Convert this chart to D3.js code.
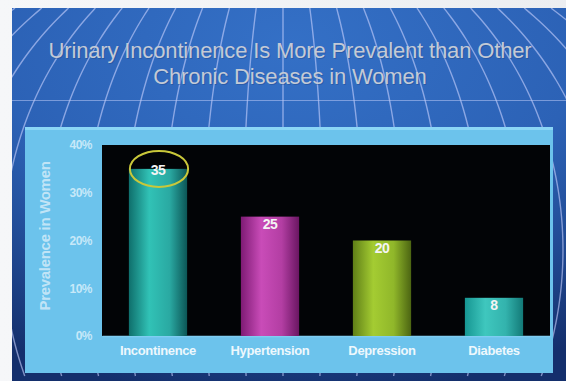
<!DOCTYPE html>
<html><head><meta charset="utf-8">
<script src="https://cdn.jsdelivr.net/npm/d3@7"></script>
<style>
html,body{margin:0;padding:0;background:#eef0f3;}
svg{display:block;}
</style></head>
<body>
<script>
const titleLines = ["Urinary Incontinence Is More Prevalent than Other", "Chronic Diseases in Women"];
const categories = ["Incontinence", "Hypertension", "Depression", "Diabetes"];
const values = [35, 25, 20, 8];
const yTicks = [0, 10, 20, 30, 40];
const yTitle = "Prevalence in Women";
const highlighted = "Incontinence";

const barColors = [
  ["#0f6f6c", "#31c2b6", "#2aa9a2", "#0c5656"],
  ["#7e1b74", "#c94cb8", "#b33ea3", "#6a1662"],
  ["#5f7f17", "#a4cc32", "#90b72a", "#4c6512"],
  ["#169692", "#3fc7be", "#33b3ad", "#137a78"]
];

const W = 566, H = 381;
const svg = d3.select("body").append("svg").attr("width", W).attr("height", H);
const defs = svg.append("defs");

// backgrounds
const lg = defs.append("linearGradient").attr("id","pageBg").attr("x1",0).attr("y1",0).attr("x2",1).attr("y2",0);
lg.append("stop").attr("offset",0).attr("stop-color","#f6f7f9");
lg.append("stop").attr("offset",1).attr("stop-color","#eceef1");
svg.append("rect").attr("width",W).attr("height",H).attr("fill","url(#pageBg)");

const rg = defs.append("radialGradient").attr("id","panelBg")
  .attr("cx","0.5").attr("cy","0.1").attr("r","0.95");
rg.append("stop").attr("offset",0).attr("stop-color","#3470c6");
rg.append("stop").attr("offset",0.55).attr("stop-color","#2c62b6");
rg.append("stop").attr("offset",1).attr("stop-color","#142f6c");
defs.append("clipPath").attr("id","panelClip").append("rect").attr("x",12).attr("y",8).attr("width",W-12).attr("height",H-8);
svg.append("rect").attr("x",12).attr("y",8).attr("width",W-12).attr("height",H-8).attr("fill","url(#panelBg)");

// globe meridians (decoration)
const deco = svg.append("g").attr("clip-path","url(#panelClip)");
const meridian = d3.line().curve(d3.curveBasis);
d3.range(-10, 11).forEach(k => {
  const pts = d3.range(8, 382, 8).map(y => {
    const f = Math.sqrt(Math.max(0, 1 - Math.pow((y - 250) / 326, 2)));
    return [283 + k * 40 * f, y];
  });
  deco.append("path").attr("d", meridian(pts)).attr("fill","none")
    .attr("stroke","#c9d2ff").attr("stroke-opacity",0.6).attr("stroke-width",1.4);
});
deco.append("line").attr("x1",12).attr("x2",W).attr("y1",100.5).attr("y2",100.5)
  .attr("stroke","#b9c8f5").attr("stroke-opacity",0.55).attr("stroke-width",1.2);

// title
const title = svg.append("g").attr("font-family","'Liberation Sans', Arial, sans-serif")
  .attr("font-size",22).attr("text-anchor","middle");
titleLines.forEach((t,i) => {
  title.append("text").attr("x",290).attr("y",58 + i*26).attr("fill","#1d3d7a").attr("fill-opacity",0.35)
    .attr("dx",1).attr("dy",1).attr("letter-spacing",-0.15).text(t);
  title.append("text").attr("x",290).attr("y",58 + i*26).attr("fill","#c3cad6")
    .attr("letter-spacing",-0.15).text(t);
});

// light blue box
svg.append("rect").attr("x",25).attr("y",127).attr("width",528).attr("height",246).attr("fill","#6cc3ec");
svg.append("rect").attr("x",25).attr("y",127).attr("width",528).attr("height",3).attr("fill","#8bd6f6");

// plot area
const m = {left:102, right:550, top:145, bottom:336};
svg.append("rect").attr("x",m.left).attr("y",m.top).attr("width",m.right-m.left).attr("height",m.bottom-m.top)
  .attr("fill","#020406");

const x = d3.scaleBand().domain(categories).range([m.left, m.right]).paddingInner(0.48).paddingOuter(0.24);
const y = d3.scaleLinear().domain([0, 40]).range([m.bottom, m.top]);

const font = "'Liberation Sans', Arial, sans-serif";

// y axis
const yAxis = svg.append("g").attr("transform",`translate(${m.left},0)`)
  .call(d3.axisLeft(y).tickValues(yTicks).tickFormat(d => d + "%").tickSize(0).tickPadding(10));
yAxis.select(".domain").remove();
yAxis.selectAll("text").attr("font-family",font).attr("font-weight","bold").attr("font-size",12)
  .attr("letter-spacing",-0.5).attr("fill","#d9f0fb").attr("fill-opacity",0.85);

svg.append("text").attr("transform","translate(50,236) rotate(-90)").attr("text-anchor","middle")
  .attr("font-family",font).attr("font-weight","bold").attr("font-size",15).attr("letter-spacing",-0.3)
  .attr("fill","#cde9f8").attr("fill-opacity",0.9).text(yTitle);

// x axis
const xAxis = svg.append("g").attr("transform",`translate(0,${m.bottom})`)
  .call(d3.axisBottom(x).tickSize(0).tickPadding(10));
xAxis.select(".domain").attr("stroke","#7fcdf2").attr("stroke-width",1.5);
xAxis.selectAll("text").attr("font-family",font).attr("font-weight","bold").attr("font-size",13)
  .attr("letter-spacing",-0.35).attr("fill","#eef8fd");

// bars
categories.forEach((c,i) => {
  const g = defs.append("linearGradient").attr("id","bar"+i).attr("x1",0).attr("x2",1).attr("y1",0).attr("y2",0);
  const cs = barColors[i];
  g.append("stop").attr("offset",0).attr("stop-color",cs[0]);
  g.append("stop").attr("offset",0.35).attr("stop-color",cs[1]);
  g.append("stop").attr("offset",0.7).attr("stop-color",cs[2]);
  g.append("stop").attr("offset",1).attr("stop-color",cs[3]);
});

svg.append("g").selectAll("rect").data(categories).join("rect")
  .attr("x", d => x(d)).attr("width", x.bandwidth())
  .attr("y", (d,i) => y(values[i])).attr("height", (d,i) => y(0) - y(values[i]))
  .attr("fill", (d,i) => `url(#bar${i})`);

svg.append("g").selectAll("text").data(categories).join("text")
  .attr("x", d => x(d) + x.bandwidth()/2)
  .attr("y", (d,i) => y(values[i]) + (d === highlighted ? 6 : 12))
  .attr("text-anchor","middle").attr("font-family",font).attr("font-weight","bold").attr("font-size",14)
  .attr("letter-spacing",-0.5).attr("fill","#f4f4f4").text((d,i) => values[i]);

// highlight ellipse
const hi = categories.indexOf(highlighted);
svg.append("ellipse").attr("cx", x(highlighted) + x.bandwidth()/2 + 1).attr("cy", y(values[hi]))
  .attr("rx", x.bandwidth()/2).attr("ry", 18)
  .attr("fill","none").attr("stroke","#c9c83a").attr("stroke-width",2);
</script>
</body></html>
